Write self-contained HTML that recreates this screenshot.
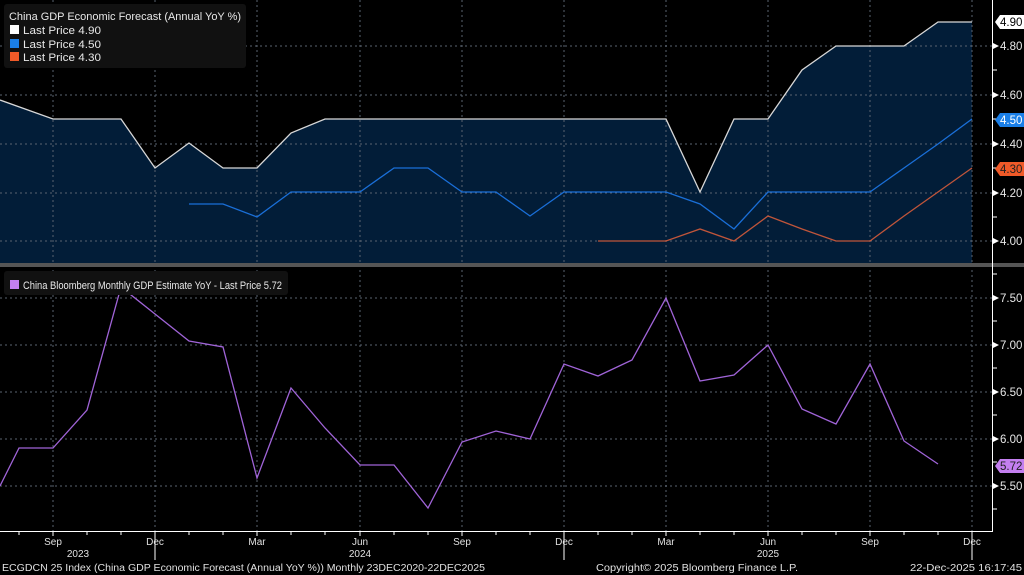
<!DOCTYPE html>
<html><head><meta charset="utf-8"><style>
html,body{margin:0;padding:0;background:#000;}
svg{display:block;font-family:"Liberation Sans",sans-serif;}
</style></head><body>
<svg width="1024" height="575" viewBox="0 0 1024 575" xmlns="http://www.w3.org/2000/svg">
<rect width="1024" height="575" fill="#000"/>
<polygon fill="#021d38" points="0,100 53,119 87,119 121,119 155,168 189,143 223,168 257,168 291,133 325,119 666,119 700,192 734,119 768,119 802,70 836,46 870,46 904,46 938,22 972,22 972,263 0,263"/>
<g stroke="#5a6470" stroke-width="1" stroke-dasharray="2,3">
<line x1="0" y1="46" x2="992" y2="46"/><line x1="0" y1="95" x2="992" y2="95"/><line x1="0" y1="144" x2="992" y2="144"/><line x1="0" y1="193" x2="992" y2="193"/><line x1="0" y1="241" x2="992" y2="241"/>
<line x1="0" y1="298" x2="992" y2="298"/><line x1="0" y1="345" x2="992" y2="345"/><line x1="0" y1="392" x2="992" y2="392"/><line x1="0" y1="439" x2="992" y2="439"/><line x1="0" y1="486" x2="992" y2="486"/>
<line x1="53" y1="0" x2="53" y2="531"/><line x1="155" y1="0" x2="155" y2="531"/><line x1="257" y1="0" x2="257" y2="531"/><line x1="360" y1="0" x2="360" y2="531"/><line x1="462" y1="0" x2="462" y2="531"/><line x1="564" y1="0" x2="564" y2="531"/><line x1="666" y1="0" x2="666" y2="531"/><line x1="768" y1="0" x2="768" y2="531"/><line x1="870" y1="0" x2="870" y2="531"/><line x1="972" y1="0" x2="972" y2="531"/>
</g>
<polyline fill="none" stroke="#d8d8d8" stroke-width="1.3" points="0,100 53,119 87,119 121,119 155,168 189,143 223,168 257,168 291,133 325,119 666,119 700,192 734,119 768,119 802,70 836,46 870,46 904,46 938,22 972,22"/>
<polyline fill="none" stroke="#1a6fd8" stroke-width="1.3" points="189,204 223,204 257,217 291,192 325,192 360,192 394,168 428,168 462,192 496,192 530,216 564,192 598,192 632,192 666,192 700,204 734,229 768,192 802,192 836,192 870,192 904,168 938,144 972,119"/>
<polyline fill="none" stroke="#c0553a" stroke-width="1.3" points="598,241 632,241 666,241 700,229 734,241 768,216 802,229 836,241 870,241 904,216 938,192 972,168"/>
<rect x="0" y="263" width="1024" height="4" fill="#555"/>
<polyline fill="none" stroke="#a064d8" stroke-width="1.3" points="0,486 19,448 53,448 87,410 121,287 155,314 189,341 223,347 257,478 291,388 325,428 360,465 394,465 428,508 462,442 496,431 530,439 564,364 598,376 632,360 666,298 700,381 734,375 768,345 802,409 836,424 870,364 904,441 938,464"/>
<line x1="992.5" y1="0" x2="992.5" y2="532" stroke="#fff" stroke-width="1"/>
<line x1="0" y1="531.5" x2="993" y2="531.5" stroke="#fff" stroke-width="1"/>
<g stroke="#fff">
<line x1="993" y1="70" x2="997" y2="70"/><line x1="993" y1="119" x2="997" y2="119"/><line x1="993" y1="168" x2="997" y2="168"/><line x1="993" y1="217" x2="997" y2="217"/>
<line x1="993" y1="274" x2="997" y2="274"/><line x1="993" y1="321" x2="997" y2="321"/><line x1="993" y1="368" x2="997" y2="368"/><line x1="993" y1="415" x2="997" y2="415"/><line x1="993" y1="462" x2="997" y2="462"/><line x1="993" y1="509" x2="997" y2="509"/>
</g>
<g fill="#fff"><polygon points="993,43 999,46 993,49"/><polygon points="993,92 999,95 993,98"/><polygon points="993,141 999,144 993,147"/><polygon points="993,190 999,193 993,196"/><polygon points="993,238 999,241 993,244"/>
<polygon points="993,295 999,298 993,301"/><polygon points="993,342 999,345 993,348"/><polygon points="993,389 999,392 993,395"/><polygon points="993,436 999,439 993,442"/><polygon points="993,483 999,486 993,489"/></g>
<g fill="#e8e8e8" font-size="11.5">
<text x="1000" y="50">4.80</text><text x="1000" y="99">4.60</text><text x="1000" y="148">4.40</text><text x="1000" y="197">4.20</text><text x="1000" y="245">4.00</text>
<text x="1000" y="302">7.50</text><text x="1000" y="349">7.00</text><text x="1000" y="396">6.50</text><text x="1000" y="443">6.00</text><text x="1000" y="490">5.50</text>
</g>
<polygon points="995,22 1000,15 1024,15 1024,29 1000,29" fill="#fff"/><text x="1000" y="26" font-size="11.5" fill="#000">4.90</text>
<polygon points="995,120 1000,113 1024,113 1024,127 1000,127" fill="#1a7fe8"/><text x="1000" y="124" font-size="11.5" fill="#fff">4.50</text>
<polygon points="995,169 1000,162 1024,162 1024,176 1000,176" fill="#f05a28"/><text x="1000" y="173" font-size="11.5" fill="#222">4.30</text>
<polygon points="995,466 1000,459 1024,459 1024,473 1000,473" fill="#c47ff0"/><text x="1000" y="470" font-size="11.5" fill="#222">5.72</text>
<g stroke="#fff">
<line x1="19" y1="531" x2="19" y2="535"/><line x1="53" y1="531" x2="53" y2="536"/><line x1="87" y1="531" x2="87" y2="535"/><line x1="121" y1="531" x2="121" y2="535"/><line x1="155" y1="531" x2="155" y2="560"/><line x1="189" y1="531" x2="189" y2="535"/><line x1="223" y1="531" x2="223" y2="535"/><line x1="257" y1="531" x2="257" y2="536"/><line x1="291" y1="531" x2="291" y2="535"/><line x1="325" y1="531" x2="325" y2="535"/><line x1="360" y1="531" x2="360" y2="536"/><line x1="394" y1="531" x2="394" y2="535"/><line x1="428" y1="531" x2="428" y2="535"/><line x1="462" y1="531" x2="462" y2="536"/><line x1="496" y1="531" x2="496" y2="535"/><line x1="530" y1="531" x2="530" y2="535"/><line x1="564" y1="531" x2="564" y2="560"/><line x1="598" y1="531" x2="598" y2="535"/><line x1="632" y1="531" x2="632" y2="535"/><line x1="666" y1="531" x2="666" y2="536"/><line x1="700" y1="531" x2="700" y2="535"/><line x1="734" y1="531" x2="734" y2="535"/><line x1="768" y1="531" x2="768" y2="536"/><line x1="802" y1="531" x2="802" y2="535"/><line x1="836" y1="531" x2="836" y2="535"/><line x1="870" y1="531" x2="870" y2="536"/><line x1="904" y1="531" x2="904" y2="535"/><line x1="938" y1="531" x2="938" y2="535"/><line x1="972" y1="531" x2="972" y2="560"/>
</g>
<g fill="#e0e0e0" font-size="10" text-anchor="middle">
<text x="53" y="545">Sep</text><text x="155" y="545">Dec</text><text x="257" y="545">Mar</text><text x="360" y="545">Jun</text><text x="462" y="545">Sep</text><text x="564" y="545">Dec</text><text x="666" y="545">Mar</text><text x="768" y="545">Jun</text><text x="870" y="545">Sep</text><text x="972" y="545">Dec</text>
<text x="78" y="557">2023</text><text x="360" y="557">2024</text><text x="768" y="557">2025</text>
</g>
<g fill="#e0e0e0" font-size="10">
<text x="2" y="571" textLength="483" lengthAdjust="spacingAndGlyphs">ECGDCN 25 Index (China GDP Economic Forecast (Annual YoY %)) Monthly 23DEC2020-22DEC2025</text>
<text x="596" y="571" textLength="202" lengthAdjust="spacingAndGlyphs">Copyright© 2025 Bloomberg Finance L.P.</text>
<text x="910" y="571" textLength="112" lengthAdjust="spacingAndGlyphs">22-Dec-2025 16:17:45</text>
</g>
<rect x="4" y="4" width="242" height="64" rx="3" fill="#111"/>
<g font-size="11" fill="#e8e8e8">
<text x="9" y="20" textLength="232" lengthAdjust="spacingAndGlyphs">China GDP Economic Forecast (Annual YoY %)</text>
<rect x="10" y="25" width="9" height="9" fill="#fff"/><text x="23" y="34" textLength="78" lengthAdjust="spacingAndGlyphs">Last Price 4.90</text>
<rect x="10" y="39" width="9" height="9" fill="#1a7fe8"/><text x="23" y="48" textLength="78" lengthAdjust="spacingAndGlyphs">Last Price 4.50</text>
<rect x="10" y="52" width="9" height="9" fill="#f05a28"/><text x="23" y="61" textLength="78" lengthAdjust="spacingAndGlyphs">Last Price 4.30</text>
</g>
<rect x="4" y="271" width="284" height="24" rx="3" fill="#111"/>
<rect x="10" y="280" width="9" height="9" fill="#c47ff0"/>
<text x="23" y="289" font-size="11" fill="#e8e8e8" textLength="259" lengthAdjust="spacingAndGlyphs">China Bloomberg Monthly GDP Estimate YoY - Last Price 5.72</text>
</svg>
</body></html>
